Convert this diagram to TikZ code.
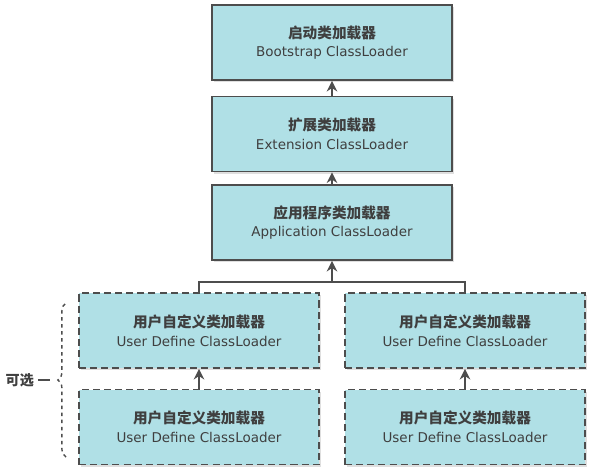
\documentclass[tikz,border=0pt]{standalone}
\usepackage{fontspec}
\setmainfont{DejaVu Sans}
\newfontfamily\cjk{Noto Sans CJK SC}
\usepackage{tikz}
\usetikzlibrary{arrows.meta,shadows,decorations.pathreplacing}
\definecolor{boxfill}{HTML}{B0E0E6}
\definecolor{boxline}{HTML}{4D4D4D}
\definecolor{boxtext}{HTML}{3F3F3F}
\newcommand{\loadertext}[2]{{\cjk\bfseries\fontsize{12.5}{16}\selectfont #1}\\#2}

\begin{document}
\begin{tikzpicture}[x=0.03cm, y=-0.03cm,
  loader/.style={draw=boxline, line width=1.6pt, fill=boxfill, text=boxtext,
    minimum width=7.2cm, minimum height=2.25cm, align=center, font=\fontsize{11.5}{16}\selectfont,
    drop shadow={shadow xshift=2pt, shadow yshift=-2pt, fill=black!25}},
  userloader/.style={loader, dash pattern=on 6pt off 3.5pt},
  up/.style={draw=boxline, line width=1.6pt, -{Stealth[length=9pt,width=9pt]}}]
\useasboundingbox (0,0) rectangle (594,473);

\node[loader] (boot) at (332,42.5) {\loadertext{启动类加载器}{Bootstrap ClassLoader}};
\node[loader] (ext) at (332,134) {\loadertext{扩展类加载器}{Extension ClassLoader}};
\node[loader] (app) at (332,222.5) {\loadertext{应用程序类加载器}{Application ClassLoader}};

\node[userloader] (userA) at (199,330.5) {\loadertext{用户自定义类加载器}{User Define ClassLoader}};
\node[userloader] (userB) at (199,427) {\loadertext{用户自定义类加载器}{User Define ClassLoader}};
\node[userloader] (userC) at (465,330.5) {\loadertext{用户自定义类加载器}{User Define ClassLoader}};
\node[userloader] (userD) at (465,427) {\loadertext{用户自定义类加载器}{User Define ClassLoader}};

\draw[up] (ext) -- (boot);
\draw[up] (app) -- (ext);

\coordinate (join) at (app.south |- 0,282);
\draw[draw=boxline, line width=1.6pt] (userA.north) |- (join) -| (userC.north);
\draw[up] (join) -- (app);
\draw[up] (userB) -- (userA);
\draw[up] (userD) -- (userC);

\draw[draw=boxline, line width=1.2pt, dashed,
  decoration={brace, amplitude=7pt}, decorate] (66,457) -- (66,303);
\coordinate (tip) at (50,380);
\node[text=boxtext, font=\cjk\bfseries\fontsize{12}{14}\selectfont, anchor=east] (optional) at (38,380) {可选};
\draw[draw=boxline, line width=1.2pt] (optional.east) -- (tip);

\end{tikzpicture}
\end{document}
